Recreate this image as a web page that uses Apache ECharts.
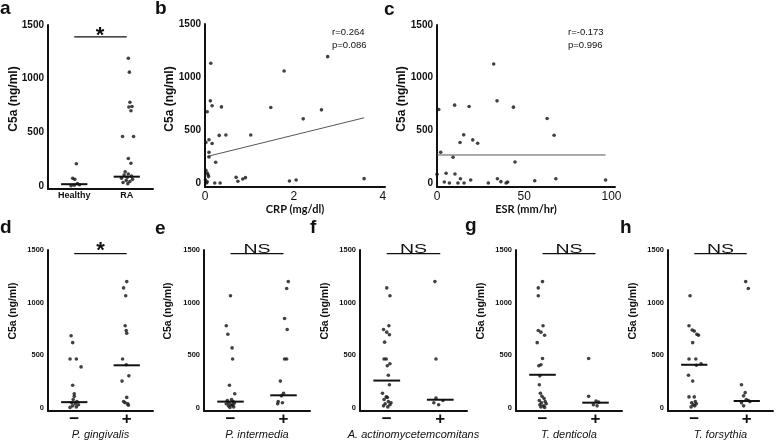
<!DOCTYPE html>
<html><head><meta charset="utf-8">
<script src="https://cdn.jsdelivr.net/npm/echarts@6/dist/echarts.min.js"></script>
<style>html,body{margin:0;padding:0;background:#fff}#c{width:776px;height:441px}</style>
</head><body><div id="c"></div><script>
// ---------- data ----------
const yTicks = [0, 500, 1000, 1500];
const aCats = ['Healthy', 'RA'];
const pnCats = ['\u2212', '+'];
const species = ['P. gingivalis', 'P. intermedia', 'A. actinomycetemcomitans', 'T. denticola', 'T. forsythia'];

// panel a
const aHealthy = [205, 70, 60, 20, 10, 5, 0];
const aHealthyJit = [0.04, -0.03, 0.01, 0.06, 0.1, 0, -0.06];
const aRA = [1190, 1060, 780, 740, 735, 700, 460, 460, 255, 210, 130, 110, 100, 90, 80, 70, 60, 50, 40, 30, 20];
const aRAJit = [0.03, 0.05, 0.06, 0.1, 0.04, 0.08, -0.08, 0.13, 0.03, 0.08, -0.03, 0.03, -0.05, 0.09, 0.01, -0.1, 0.11, -0.01, 0.06, -0.07, 0.02];
const aMedian = [15, 85];

// panel b (CRP vs C5a)
const bCRP = [0.13, 1.78, 2.76, 0.12, 0.16, 0.05, 0.37, 1.48, 2.62, 2.21, 1.03, 0.32, 0.47, 0.09, 0.02, 0.16, 0.09, 0.09, 0.24, 0.02, 0.05, 0.07, 0.70, 0.74, 0.85, 0.91, 1.90, 2.05, 3.58, 0.22, 0.34, 0.01, 0.05, 0.03, 0.08];
const bC5a = [1130, 1057, 1192, 775, 728, 672, 718, 712, 690, 605, 452, 449, 452, 408, 383, 373, 289, 245, 195, 119, 94, 78, 53, 16, 38, 50, 19, 28, 41, 0, 0, 30, 10, 0, 60];
const bTrendX = [0.05, 3.58];
const bTrendY = [250, 615];
const bStats = ['r=0.264', 'p=0.086'];

// panel c (ESR vs C5a)
const cESR = [32.5, 34.4, 10.1, 18.4, 43.8, 1.0, 63.1, 15.3, 67.1, 20.5, 13.2, 23.3, 2.1, 9.2, 44.7, 0, 5.2, 10.3, 13.4, 19.3, 34.6, 68.1, 96.6, 56, 4.2, 7.1, 12, 15.5, 29.4, 36.6, 39.6, 40.5];
const cC5a = [1130, 780, 739, 726, 720, 698, 612, 457, 453, 409, 384, 377, 292, 244, 200, 82, 92, 86, 41, 29, 41, 41, 29, 22, 10, 0, 0, 0, 0, 13, 0, 10];
const cTrendX = [0, 96.6];
const cTrendY = [266, 266];
const cStats = ['r=-0.173', 'p=0.996'];

// panels d-h: negative / positive groups
const dNeg = [685, 620, 465, 465, 390, 215, 135, 110, 80, 60, 50, 40, 30, 20, 10, 5];
const dNegJit = [-0.06, -0.03, -0.08, 0.04, 0.13, -0.03, 0, 0, -0.02, 0.05, -0.05, 0.02, 0.08, -0.03, 0.04, -0.08];
const dPos = [1200, 1140, 1065, 780, 735, 710, 465, 410, 305, 255, 100, 60, 50, 40, 25];
const dPosJit = [0, -0.06, -0.02, -0.03, -0.01, 0, -0.08, -0.01, 0.04, -0.09, 0, -0.06, -0.03, 0.02, 0.03];
const dMedian = [55, 405];

const eNeg = [1065, 780, 700, 570, 465, 215, 135, 80, 70, 60, 50, 45, 40, 30, 25, 20, 10, 5];
const eNegJit = [0, -0.08, -0.05, 0.03, 0.04, -0.02, 0.08, 0.02, -0.06, 0.05, -0.03, 0.07, -0.08, 0.01, 0.04, -0.04, 0.06, -0.01];
const ePos = [1200, 1135, 850, 745, 465, 465, 255, 140, 115, 60, 50, 40];
const ePosJit = [0.09, 0.06, 0.02, 0.07, 0.02, 0.06, -0.06, 0, -0.04, -0.1, -0.02, -0.11];
const eMedian = [60, 120];

const fNeg = [1140, 1065, 780, 745, 720, 695, 625, 465, 465, 420, 400, 310, 220, 140, 105, 100, 80, 60, 50, 40, 30, 20, 10];
const fNegJit = [0, 0.06, 0.04, -0.06, 0, 0.05, -0.04, -0.01, -0.05, 0.06, 0.01, 0.03, 0.05, -0.08, -0.01, 0.01, -0.05, 0.03, 0.08, -0.03, 0.06, -0.06, 0.02];
const fPos = [1200, 465, 95, 70, 50, 30];
const fPosJit = [-0.1, -0.08, -0.08, 0.05, -0.12, -0.03];
const fMedian = [260, 78];

const gNeg = [1200, 1140, 1065, 780, 735, 720, 690, 620, 470, 410, 400, 305, 220, 140, 110, 90, 70, 60, 50, 40, 30, 20, 10, 5];
const gNegJit = [0, -0.08, -0.08, 0.01, -0.08, -0.03, 0.04, -0.1, 0, -0.03, -0.07, -0.05, -0.06, -0.04, -0.01, 0.03, -0.06, 0.05, -0.02, 0.07, -0.05, 0.02, -0.03, 0.04];
const gPos = [470, 110, 65, 55, 30, 20];
const gPosJit = [-0.13, -0.13, 0.01, 0.06, -0.04, 0.03];
const gMedian = [315, 50];

const hNeg = [1065, 780, 740, 730, 700, 690, 620, 465, 465, 420, 405, 310, 255, 105, 105, 60, 50, 40, 30, 20, 10];
const hNegJit = [-0.08, -0.1, -0.04, 0, 0.05, 0.08, -0.03, -0.1, 0.03, 0.13, 0.04, -0.11, -0.03, -0.1, 0, 0.02, -0.05, 0.04, -0.02, 0.01, -0.06];
const hPos = [1200, 1135, 220, 145, 115, 80, 70, 60, 50, 20];
const hPosJit = [-0.02, 0.03, -0.1, -0.03, -0.06, -0.01, 0.03, 0.06, -0.1, -0.06];
const hMedian = [410, 66];

const sigLabels = ['*', 'NS', 'NS', 'NS', 'NS'];
const sigA = '*';

// ---------- build ----------
const BLACK = '#111';
const FONT = 'Liberation Sans, Arial, sans-serif';
const grids = [], xAxes = [], yAxes = [], series = [], graphics = [];

function yAxisFor(i, min, fontSize) {
  return {
    type: 'value', gridIndex: i, min: min, max: 1500,
    axisLine: { show: true, lineStyle: { color: BLACK, width: 2 } },
    axisTick: { show: false }, splitLine: { show: false },
    axisLabel: { customValues: yTicks, formatter: v => String(v), color: BLACK, fontWeight: 'bold', fontSize: fontSize, fontFamily: FONT, margin: 4 }
  };
}
function dots(i, xs, ys) {
  return { type: 'scatter', xAxisIndex: i, yAxisIndex: i, symbolSize: 3.6, itemStyle: { color: BLACK },
    data: ys.map((v, k) => [xs[k], v]), silent: true, z: 3 };
}
function seg(i, x0, x1, y0, y1, w, color) {
  return { type: 'line', xAxisIndex: i, yAxisIndex: i, symbol: 'none', silent: true,
    lineStyle: { color: color || BLACK, width: w }, data: [[x0, y0], [x1, y1]], z: 2 };
}
function txt(x, y, text, opts) {
  return Object.assign({ type: 'text', x: x, y: y, silent: true,
    style: Object.assign({ text: text, fill: BLACK, align: 'center', verticalAlign: 'middle', fontFamily: FONT }, opts.style || {}) },
    opts.el || {});
}

// ---- panel a ----
grids.push({ left: 48, top: 25, width: 105, height: 164 });
xAxes.push({ type: 'value', gridIndex: 0, min: 0, max: 2,
  axisLine: { onZero: false, lineStyle: { color: BLACK, width: 2 } }, axisTick: { show: false }, splitLine: { show: false },
  axisLabel: { customValues: [0.5, 1.5], formatter: v => aCats[Math.round(v - 0.5)] || '', color: BLACK, fontWeight: 'bold', fontSize: 9, fontFamily: FONT, margin: 2 } });
yAxes.push(yAxisFor(0, -30, 10));
series.push(dots(0, aHealthy.map((v, k) => 0.5 + aHealthyJit[k]), aHealthy));
series.push(dots(0, aRA.map((v, k) => 1.5 + aRAJit[k]), aRA));
series.push(seg(0, 0.25, 0.75, aMedian[0], aMedian[0], 2));
series.push(seg(0, 1.25, 1.75, aMedian[1], aMedian[1], 2));
series.push(seg(0, 0.5, 1.5, 1390, 1390, 1.3));
graphics.push(txt(100, 36, sigA, { style: { fontSize: 22, fontWeight: 'bold' } }));

// ---- panel b ----
grids.push({ left: 205, top: 24, width: 180, height: 163 });
xAxes.push({ type: 'value', gridIndex: 1, min: 0, max: 4.05,
  name: 'CRP (mg/dl)', nameLocation: 'middle', nameGap: 17,
  nameTextStyle: { color: BLACK, fontWeight: 'bold', fontSize: 11, fontFamily: 'Lato, ' + FONT },
  axisLine: { onZero: false, lineStyle: { color: BLACK, width: 2 } }, axisTick: { show: false }, splitLine: { show: false },
  axisLabel: { customValues: [0, 2, 4], color: BLACK, fontSize: 12, fontFamily: FONT, margin: 4 } });
yAxes.push(yAxisFor(1, -38, 10));
series.push(dots(1, bCRP, bC5a));
series.push(seg(1, bTrendX[0], bTrendX[1], bTrendY[0], bTrendY[1], 1, '#555'));
graphics.push(txt(332, 26, bStats.join('\n'), { style: { fontSize: 9.5, align: 'left', verticalAlign: 'top', lineHeight: 13 } }));

// ---- panel c ----
grids.push({ left: 437, top: 25, width: 178, height: 162 });
xAxes.push({ type: 'value', gridIndex: 2, min: 0, max: 102,
  name: 'ESR (mm/hr)', nameLocation: 'middle', nameGap: 17,
  nameTextStyle: { color: BLACK, fontWeight: 'bold', fontSize: 11, fontFamily: 'Lato, ' + FONT },
  axisLine: { onZero: false, lineStyle: { color: BLACK, width: 2 } }, axisTick: { show: false }, splitLine: { show: false },
  axisLabel: { customValues: [0, 50, 100], color: BLACK, fontSize: 12, fontFamily: FONT, margin: 4 } });
yAxes.push(yAxisFor(2, -38, 10));
series.push(dots(2, cESR, cC5a));
series.push(seg(2, cTrendX[0], cTrendX[1], cTrendY[0], cTrendY[1], 1, '#555'));
graphics.push(txt(568, 26, cStats.join('\n'), { style: { fontSize: 9.5, align: 'left', verticalAlign: 'top', lineHeight: 13 } }));

// ---- panels d-h ----
const bottomPanels = [
  { left: 48, width: 105, neg: dNeg, negJ: dNegJit, pos: dPos, posJ: dPosJit, med: dMedian },
  { left: 204, width: 106, neg: eNeg, negJ: eNegJit, pos: ePos, posJ: ePosJit, med: eMedian },
  { left: 360, width: 107, neg: fNeg, negJ: fNegJit, pos: fPos, posJ: fPosJit, med: fMedian },
  { left: 516, width: 106, neg: gNeg, negJ: gNegJit, pos: gPos, posJ: gPosJit, med: gMedian },
  { left: 668, width: 105, neg: hNeg, negJ: hNegJit, pos: hPos, posJ: hPosJit, med: hMedian }
];
bottomPanels.forEach((p, k) => {
  const i = 3 + k;
  grids.push({ left: p.left, top: 250, width: p.width, height: 162 });
  xAxes.push({ type: 'value', gridIndex: i, min: 0, max: 2,
    name: species[k], nameLocation: 'middle', nameGap: 15,
    nameTextStyle: { color: BLACK, fontStyle: 'italic', fontSize: 11, fontFamily: FONT },
    axisLine: { onZero: false, lineStyle: { color: BLACK, width: 2 } }, axisTick: { show: false }, splitLine: { show: false },
    axisLabel: { customValues: [0.5, 1.5], formatter: v => pnCats[Math.round(v - 0.5)] || '', color: BLACK, fontWeight: 'bold', fontSize: 17, fontFamily: FONT, margin: 0 } });
  yAxes.push(yAxisFor(i, -30, 7.5));
  series.push(dots(i, p.neg.map((v, j) => 0.5 + p.negJ[j]), p.neg));
  series.push(dots(i, p.pos.map((v, j) => 1.5 + p.posJ[j]), p.pos));
  series.push(seg(i, 0.25, 0.75, p.med[0], p.med[0], 2));
  series.push(seg(i, 1.25, 1.75, p.med[1], p.med[1], 2));
  series.push(seg(i, 0.5, 1.5, 1465, 1465, 1.3));
  const cx = p.left + p.width / 2;
  if (sigLabels[k] === '*') {
    graphics.push(txt(cx, 251, '*', { style: { fontSize: 22, fontWeight: 'bold' } }));
  } else {
    graphics.push(txt(cx, 249, sigLabels[k], { style: { fontSize: 13, x: 0, y: 0 }, el: { scaleX: 1.5 } }));
  }
});

// panel letters
[['a', 0, 9], ['b', 155, 9], ['c', 384, 10], ['d', 0, 228], ['e', 155, 229], ['f', 310, 228], ['g', 465, 226], ['h', 620, 228]]
  .forEach(([t, x, y]) => graphics.push(txt(x, y, t, { style: { fontSize: 19, fontWeight: 'bold', align: 'left', fontFamily: 'Liberation Sans, Arial' } })));

// y-axis titles
[[14, 99, 12], [170, 99, 12], [402, 99, 12], [13, 311, 10.5], [168, 311, 10.5], [325, 311, 10.5], [481, 311, 10.5], [633, 311, 10.5]]
  .forEach(([x, y, fs]) => graphics.push(txt(x, y, 'C5a (ng/ml)', { style: { fontSize: fs, fontWeight: 'bold' }, el: { rotation: Math.PI / 2 } })));

const chart = echarts.init(document.getElementById('c'));
chart.setOption({
  backgroundColor: '#fff',
  animation: false,
  grid: grids, xAxis: xAxes, yAxis: yAxes, series: series, graphic: graphics
});
</script></body></html>
